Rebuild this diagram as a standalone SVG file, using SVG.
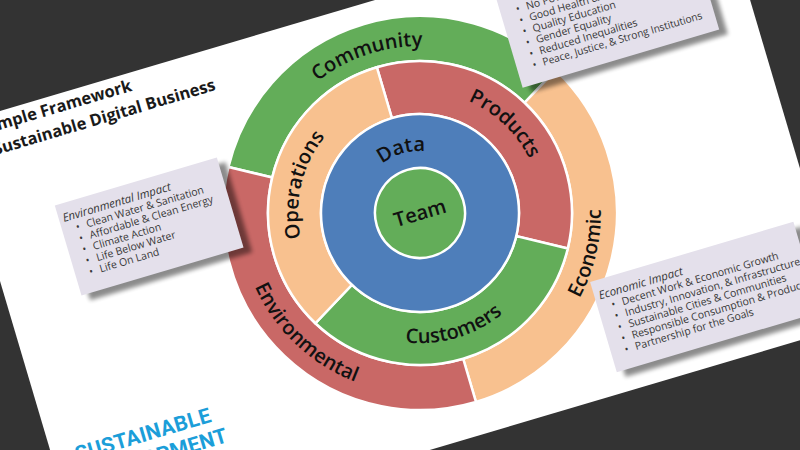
<svg xmlns="http://www.w3.org/2000/svg" width="800" height="450" viewBox="0 0 800 450">
<defs>
<filter id="sh" x="-20%" y="-20%" width="140%" height="140%"><feGaussianBlur stdDeviation="2.2"/></filter>
<path id="pCommunity" d="M -158.8,-51.6 A 167 167 0 0 1 154.8,-62.6"/>
<path id="pProducts" d="M -21.2,-120.1 A 122 122 0 0 1 93.5,78.4"/>
<path id="pOperations" d="M -93.5,78.4 A 122 122 0 0 1 21.2,-120.1"/>
<path id="pData" d="M -58.3,-21.2 A 62 62 0 0 1 58.3,-21.2"/>
<path id="pCustomers" d="M -122.2,44.5 A 130 130 0 0 0 122.2,44.5"/>
<path id="pEnvironmental" d="M -138.6,-116.3 A 181 181 0 0 0 31.4,178.2"/>
<path id="pEconomic" d="M -31.4,178.2 A 181 181 0 0 0 138.6,-116.3"/>
</defs>
<style>
.seg{stroke:#fff;stroke-width:2.5}
.g{fill:#63AD59}.r{fill:#C96866}.p{fill:#F8C18F}.b{fill:#4E7EBA}
.lbl{font-family:"Open Sans","DejaVu Sans",sans-serif;font-size:20px;font-weight:600;fill:#111}
.title{font-family:"Open Sans","DejaVu Sans",sans-serif;font-size:16.5px;font-weight:700;fill:#1a1a1a}
.box{fill:#E4E0EB}
.shadow{fill:#000;opacity:.45;filter:url(#sh)}
.ct{font-family:"Open Sans","DejaVu Sans",sans-serif;font-size:10.5px;fill:#383838}
.ch{font-family:"Open Sans","DejaVu Sans",sans-serif;font-size:11.5px;font-style:italic;fill:#383838}
.logo{font-family:Roboto,"Liberation Sans",sans-serif;font-size:21px;font-weight:700;fill:#1B9ED9;letter-spacing:0.3px}
</style>
<rect width="800" height="450" fill="#333"/>
<g transform="translate(420,213) rotate(-16.5)">
<rect id="slide" x="-422" y="-217" width="799" height="447" fill="#fff"/>
<g id="title">
<text class="title" x="-395" y="-199">Simple Framework</text>
<text class="title" x="-391" y="-176">Sustainable Digital Business</text>
</g>
<g id="logo">
<text class="logo" x="-399" y="141">SUSTAINABLE</text>
<text class="logo" x="-399" y="165">DEVELOPMENT</text>
</g>
<g id="outer-ring">
<path id="community" class="seg g" d="M -170.6,-98.5 A 197 197 0 0 1 170.6,-98.5 L 131.6,-76 A 152 152 0 0 0 -131.6,-76 Z"/>
<path id="economic" class="seg p" d="M 170.6,-98.5 A 197 197 0 0 1 0,197 L 0,152 A 152 152 0 0 0 131.6,-76 Z"/>
<path id="environmental" class="seg r" d="M 0,197 A 197 197 0 0 1 -170.6,-98.5 L -131.6,-76 A 152 152 0 0 0 0,152 Z"/>
</g>
<g id="middle-ring">
<path id="products" class="seg r" d="M 0,-152 A 152 152 0 0 1 131.6,76 L 85.7,49.5 A 99 99 0 0 0 0,-99 Z"/>
<path id="customers" class="seg g" d="M 131.6,76 A 152 152 0 0 1 -131.6,76 L -85.7,49.5 A 99 99 0 0 0 85.7,49.5 Z"/>
<path id="operations" class="seg p" d="M -131.6,76 A 152 152 0 0 1 0,-152 L 0,-99 A 99 99 0 0 0 -85.7,49.5 Z"/>
</g>
<g id="data"><circle class="seg b" r="99"/></g>
<g id="team"><circle class="seg g" r="45"/><text class="lbl" y="7" text-anchor="middle">Team</text></g>
<g id="labels">
<text class="lbl"><textPath href="#pCommunity" startOffset="50%" text-anchor="middle">Community</textPath></text>
<text class="lbl"><textPath href="#pProducts" startOffset="50%" text-anchor="middle">Products</textPath></text>
<text class="lbl"><textPath href="#pOperations" startOffset="50%" text-anchor="middle">Operations</textPath></text>
<text class="lbl"><textPath href="#pData" startOffset="50%" text-anchor="middle">Data</textPath></text>
<text class="lbl"><textPath href="#pCustomers" startOffset="50%" text-anchor="middle">Customers</textPath></text>
<text class="lbl"><textPath href="#pEnvironmental" startOffset="50%" text-anchor="middle">Environmental</textPath></text>
<text class="lbl"><textPath href="#pEconomic" startOffset="50%" text-anchor="middle">Economic</textPath></text>
</g>
<g id="environmental-impact">
<rect class="shadow" x="-341" y="-104" width="169" height="94"/>
<rect class="box" x="-348" y="-111" width="169" height="94"/>
<text class="ch" x="-344" y="-92.5">Environmental Impact</text>
<g class="ct">
<text x="-334" y="-80.5">•</text><text x="-323" y="-80.5">Clean Water &amp; Sanitation</text>
<text x="-334" y="-68.8">•</text><text x="-323" y="-68.8">Affordable &amp; Clean Energy</text>
<text x="-334" y="-57.1">•</text><text x="-323" y="-57.1">Climate Action</text>
<text x="-334" y="-45.4">•</text><text x="-323" y="-45.4">Life Below Water</text>
<text x="-334" y="-33.7">•</text><text x="-323" y="-33.7">Life On Land</text>
</g>
</g>
<g id="social-impact">
<rect class="shadow" x="141" y="-208" width="205" height="124"/>
<rect class="box" x="134" y="-215" width="205" height="124"/>
<g class="ct">
<text x="150" y="-164.5">•</text><text x="160.5" y="-164.5">No Poverty</text>
<text x="150" y="-152.8">•</text><text x="160.5" y="-152.8">Good Health &amp; Well-being</text>
<text x="150" y="-141.1">•</text><text x="160.5" y="-141.1">Quality Education</text>
<text x="150" y="-129.4">•</text><text x="160.5" y="-129.4">Gender Equality</text>
<text x="150" y="-117.7">•</text><text x="160.5" y="-117.7">Reduced Inequalities</text>
<text x="150" y="-106">•</text><text x="160.5" y="-106" textLength="166" lengthAdjust="spacingAndGlyphs">Peace, Justice, &amp; Strong Institutions</text>
</g>
</g>
<g id="economic-impact">
<rect class="shadow" x="150.5" y="121.5" width="212" height="94"/>
<rect class="box" x="143.5" y="114.5" width="212" height="94"/>
<text class="ch" x="148" y="134">Economic Impact</text>
<g class="ct">
<text x="157.5" y="146">•</text><text x="168.5" y="146">Decent Work &amp; Economic Growth</text>
<text x="157.5" y="157.7">•</text><text x="168.5" y="157.7">Industry, Innovation, &amp; Infrastructure</text>
<text x="157.5" y="169.4">•</text><text x="168.5" y="169.4">Sustainable Cities &amp; Communities</text>
<text x="157.5" y="181.1">•</text><text x="168.5" y="181.1">Responsible Consumption &amp; Production</text>
<text x="157.5" y="192.8">•</text><text x="168.5" y="192.8">Partnership for the Goals</text>
</g>
</g>
<g id="connectors"/>
</g>
</svg>
